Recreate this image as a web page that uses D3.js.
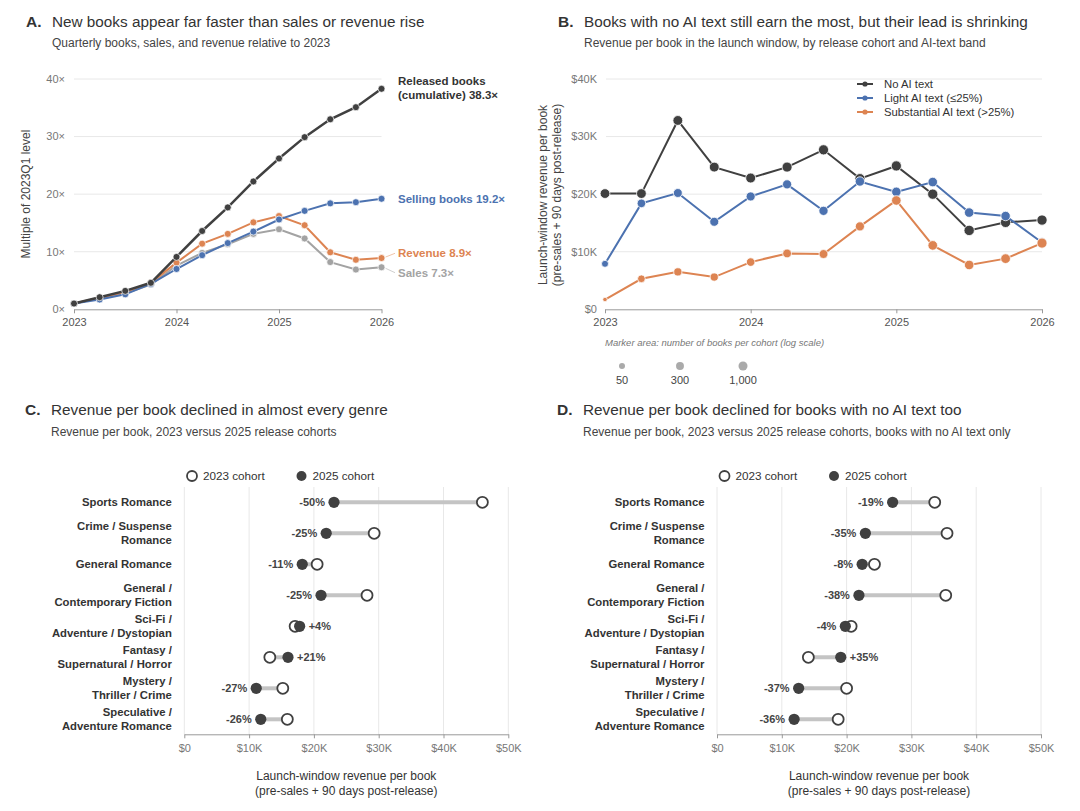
<!DOCTYPE html>
<html>
<head>
<meta charset="utf-8">
<script src="https://cdn.jsdelivr.net/npm/d3@7"></script>
<style>
  body { margin: 0; background: #fff; }
  svg { font-family: "Liberation Sans", Arial, sans-serif; display: block; }
</style>
</head>
<body>
<div id="chart"></div>
<script>
var width = 1080;
var height = 811;

// ---- data ----
var quarters = ["2023Q1","2023Q2","2023Q3","2023Q4","2024Q1","2024Q2","2024Q3","2024Q4",
                "2025Q1","2025Q2","2025Q3","2025Q4","2026Q1"];

// panel A: multiple of 2023Q1 level
var releasedBooks = [1.0, 2.1, 3.2, 4.6, 9.1, 13.6, 17.7, 22.2, 26.2, 29.9, 33.0, 35.1, 38.3];
var sellingBooks  = [1.0, 1.7, 2.6, 4.4, 7.0, 9.4, 11.5, 13.5, 15.6, 17.1, 18.4, 18.6, 19.2];
var revenueMult   = [1.0, 2.0, 3.0, 4.6, 8.1, 11.4, 13.1, 15.1, 16.2, 14.6, 9.9, 8.6, 8.9];
var salesMult     = [1.0, 1.9, 2.8, 4.3, 7.6, 9.8, 11.3, 13.1, 13.9, 12.3, 8.2, 6.9, 7.3];

// panel B: launch-window revenue per book ($K) and books per cohort
var noAiRev    = [20.1, 20.1, 32.8, 24.7, 22.8, 24.7, 27.7, 22.7, 24.9, 20.0, 13.7, 15.1, 15.5];
var lightAiRev = [7.9, 18.4, 20.2, 15.2, 19.6, 21.7, 17.1, 22.2, 20.4, 22.1, 16.8, 16.2, 11.6];
var subAiRev   = [1.7, 5.3, 6.5, 5.6, 8.2, 9.7, 9.6, 14.4, 18.9, 11.1, 7.7, 8.8, 11.5];
var noAiBooks    = [2500, 2600, 2800, 3000, 3400, 3800, 4500, 4000, 4800, 5200, 5800, 5500, 5200];
var lightAiBooks = [120, 600, 900, 1000, 1100, 1200, 1300, 1600, 1800, 2000, 1900, 1700, 1400];
var subAiBooks   = [18, 250, 400, 400, 600, 800, 900, 1200, 2000, 2200, 2000, 2400, 4000];
var sizeLegend = [50, 300, 1000];

// panels C & D: revenue per book ($K) by genre
var genres = ["Sports Romance", "Crime / Suspense Romance", "General Romance",
              "General / Contemporary Fiction", "Sci-Fi / Adventure / Dystopian",
              "Fantasy / Supernatural / Horror", "Mystery / Thriller / Crime",
              "Speculative / Adventure Romance"];
var genreLines = [["Sports Romance"], ["Crime / Suspense", "Romance"], ["General Romance"],
                  ["General /", "Contemporary Fiction"], ["Sci-Fi /", "Adventure / Dystopian"],
                  ["Fantasy /", "Supernatural / Horror"], ["Mystery /", "Thriller / Crime"],
                  ["Speculative /", "Adventure Romance"]];
var allRev2023 = [46.0, 29.3, 20.5, 28.2, 17.1, 13.2, 15.2, 15.9];
var allRev2025 = [23.1, 21.9, 18.2, 21.1, 17.8, 16.0, 11.1, 11.8];
var noAiRev2023 = [33.6, 35.5, 24.3, 35.3, 20.7, 14.1, 20.0, 18.7];
var noAiRev2025 = [27.1, 22.9, 22.4, 21.9, 19.8, 19.1, 12.6, 11.9];

var C_DARK = "#404040", C_BLUE = "#4c72b0", C_ORANGE = "#dd8452", C_GRAY = "#a3a3a3";

var svg = d3.select("#chart").append("svg")
    .attr("width", width)
    .attr("height", height);

svg.append("rect").attr("width", width).attr("height", height).attr("fill", "#fff");

function qToYear(q) {
  return +q.slice(0, 4) + (+q.slice(5) - 1) / 4;
}

function header(x, y, letter, title, sub) {
  svg.append("text").attr("x", x).attr("y", y)
      .attr("font-size", 15.5).attr("font-weight", "bold").attr("fill", "#333").text(letter);
  svg.append("text").attr("x", x + 26).attr("y", y).attr("font-size", 15.3)
      .attr("fill", "#333").text(title);
  svg.append("text").attr("x", x + 26).attr("y", y + 20.5).attr("font-size", 12)
      .attr("fill", "#444").text(sub);
}

function timeAxes(g, x, y, yTicks, fmt, x0, x1) {
  // gridlines
  g.append("g").selectAll("line").data(yTicks.filter(d => d > 0)).enter()
    .append("line")
    .attr("x1", x0).attr("x2", x1)
    .attr("y1", d => y(d)).attr("y2", d => y(d))
    .attr("stroke", "#e8e8e8").attr("stroke-width", 1);
  g.append("g").selectAll("text").data(yTicks).enter()
    .append("text")
    .attr("x", x0 - 9).attr("y", d => y(d)).attr("dy", "0.35em")
    .attr("text-anchor", "end").attr("font-size", 11).attr("fill", "#777")
    .text(fmt);
  var xa = g.append("g").attr("transform", "translate(0," + y(0) + ")")
    .call(d3.axisBottom(x).tickValues([2023, 2024, 2025, 2026]).tickFormat(d3.format("d"))
      .tickSize(4).tickSizeOuter(0).tickPadding(5));
  xa.select(".domain").attr("stroke", "#999");
  xa.selectAll(".tick line").attr("stroke", "#999");
  xa.selectAll(".tick text").attr("font-size", 11).attr("fill", "#555")
    .attr("font-family", "Liberation Sans, Arial, sans-serif");
}

// ================= Panel A =================
header(26, 26.5, "A.", "New books appear far faster than sales or revenue rise",
       "Quarterly books, sales, and revenue relative to 2023");

var gA = svg.append("g");
var xA = d3.scaleLinear().domain([2023, 2026]).range([74, 381.5]);
var yA = d3.scaleLinear().domain([0, 40]).range([309.3, 79]);
timeAxes(gA, xA, yA, [0, 10, 20, 30, 40], d => d + "×", 74, 381.5);

gA.append("text")
  .attr("transform", "translate(30,194) rotate(-90)")
  .attr("text-anchor", "middle").attr("font-size", 12).attr("fill", "#444")
  .text("Multiple of 2023Q1 level");

var seriesA = [
  { vals: salesMult, color: C_GRAY, w: 2 },
  { vals: revenueMult, color: C_ORANGE, w: 2 },
  { vals: sellingBooks, color: C_BLUE, w: 2 },
  { vals: releasedBooks, color: C_DARK, w: 2.5 }
];
var lineA = d3.line().x((d, i) => xA(qToYear(quarters[i]))).y(d => yA(d));
seriesA.forEach(function(s) {
  gA.append("path").datum(s.vals).attr("d", lineA)
    .attr("fill", "none").attr("stroke", s.color).attr("stroke-width", s.w);
  gA.append("g").selectAll("circle").data(s.vals).enter()
    .append("circle")
    .attr("cx", (d, i) => xA(qToYear(quarters[i])))
    .attr("cy", d => yA(d))
    .attr("r", 3.5)
    .attr("fill", s.color).attr("stroke", "#fff").attr("stroke-width", 0.7);
});

var lastA = quarters.length - 1;
var xEnd = xA(qToYear(quarters[lastA]));
var lblX = 398;
var endLbl = gA.append("g").attr("font-size", 11.5).attr("font-weight", "bold");
endLbl.append("text").attr("x", lblX).attr("y", 81).attr("dy", "0.35em").attr("fill", "#333")
  .text("Released books");
endLbl.append("text").attr("x", lblX).attr("y", 94.5).attr("dy", "0.35em").attr("fill", "#333")
  .text("(cumulative) " + releasedBooks[lastA].toFixed(1) + "×");
endLbl.append("text").attr("x", lblX).attr("y", yA(sellingBooks[lastA])).attr("dy", "0.35em")
  .attr("fill", C_BLUE).text("Selling books " + sellingBooks[lastA].toFixed(1) + "×");
endLbl.append("text").attr("x", lblX).attr("y", 253.3).attr("dy", "0.35em")
  .attr("fill", C_ORANGE).text("Revenue " + revenueMult[lastA].toFixed(1) + "×");
endLbl.append("text").attr("x", lblX).attr("y", 272.7).attr("dy", "0.35em")
  .attr("fill", C_GRAY).text("Sales " + salesMult[lastA].toFixed(1) + "×");
gA.append("line").attr("x1", xEnd + 4).attr("y1", yA(revenueMult[lastA]) - 1)
  .attr("x2", lblX - 3).attr("y2", 253.3).attr("stroke", "#f0c4a8").attr("stroke-width", 1);
gA.append("line").attr("x1", xEnd + 4).attr("y1", yA(salesMult[lastA]) + 1)
  .attr("x2", lblX - 3).attr("y2", 272.7).attr("stroke", "#d0d0d0").attr("stroke-width", 1);

// ================= Panel B =================
header(558, 26.5, "B.", "Books with no AI text still earn the most, but their lead is shrinking",
       "Revenue per book in the launch window, by release cohort and AI-text band");

var gB = svg.append("g");
var xB = d3.scaleLinear().domain([2023, 2026]).range([605, 1042]);
var yB = d3.scaleLinear().domain([0, 40]).range([309.3, 79]);
timeAxes(gB, xB, yB, [0, 10, 20, 30, 40], d => d === 0 ? "$0" : "$" + d + "K", 606, 1042);

gB.append("text")
  .attr("transform", "translate(543,195) rotate(-90)")
  .attr("text-anchor", "middle").attr("font-size", 12).attr("fill", "#444")
  .selectAll("tspan")
  .data(["Launch-window revenue per book", "(pre-sales + 90 days post-release)"])
  .enter().append("tspan")
  .attr("x", 0).attr("dy", (d, i) => i === 0 ? "0.35em" : "1.15em")
  .text(d => d);

// marker area on a log scale
var areaB = d3.scaleLog().domain([50, 1000]).range([Math.PI * 3.0 * 3.0, Math.PI * 4.5 * 4.5]);
function rB(n) { return Math.sqrt(Math.max(areaB(n), 12) / Math.PI); }

var seriesB = [
  { name: "No AI text", vals: noAiRev, n: noAiBooks, color: C_DARK },
  { name: "Light AI text (≤25%)", vals: lightAiRev, n: lightAiBooks, color: C_BLUE },
  { name: "Substantial AI text (>25%)", vals: subAiRev, n: subAiBooks, color: C_ORANGE }
];
var lineB = d3.line().x((d, i) => xB(qToYear(quarters[i]))).y(d => yB(d));
seriesB.forEach(function(s) {
  gB.append("path").datum(s.vals).attr("d", lineB)
    .attr("fill", "none").attr("stroke", s.color).attr("stroke-width", 2);
  gB.append("g").selectAll("circle").data(s.vals).enter()
    .append("circle")
    .attr("cx", (d, i) => xB(qToYear(quarters[i])))
    .attr("cy", d => yB(d))
    .attr("r", (d, i) => rB(s.n[i]))
    .attr("fill", s.color).attr("stroke", "#fff").attr("stroke-width", 0.8);
});

var legB = gB.append("g").attr("transform", "translate(857,84)");
seriesB.forEach(function(s, i) {
  var row = legB.append("g").attr("transform", "translate(0," + i * 14 + ")");
  row.append("line").attr("x1", 0).attr("x2", 16).attr("stroke", s.color).attr("stroke-width", 2);
  row.append("circle").attr("cx", 8).attr("r", 2.6).attr("fill", s.color);
  row.append("text").attr("x", 27).attr("dy", "0.35em").attr("font-size", 11.3)
    .attr("fill", "#333").text(s.name);
});

gB.append("text").attr("x", 605).attr("y", 343).attr("dy", "0.35em")
  .attr("font-size", 9.5).attr("font-style", "italic").attr("fill", "#777")
  .text("Marker area: number of books per cohort (log scale)");
var sizeX = [622, 680, 743];
gB.append("g").selectAll("circle").data(sizeLegend).enter().append("circle")
  .attr("cx", (d, i) => sizeX[i]).attr("cy", 366).attr("r", d => rB(d)).attr("fill", "#aaa");
gB.append("g").selectAll("text").data(sizeLegend).enter().append("text")
  .attr("x", (d, i) => sizeX[i]).attr("y", 380).attr("dy", "0.35em")
  .attr("text-anchor", "middle").attr("font-size", 11).attr("fill", "#444")
  .text(d => d3.format(",")(d));

// ================= Panels C & D =================
function dumbbell(ox, plotX0, letter, title, sub, v23, v25, legX) {
  header(ox, 415, letter, title, sub);
  var g = svg.append("g");
  var x = d3.scaleLinear().domain([0, 50]).range([plotX0, plotX0 + 324]);
  var y = d3.scalePoint().domain(genres).range([502.3, 719.3]);
  var top = 487, base = 734.3;

  g.append("g").selectAll("line").data(x.ticks(5)).enter().append("line")
    .attr("x1", d => x(d)).attr("x2", d => x(d))
    .attr("y1", top).attr("y2", base)
    .attr("stroke", "#e8e8e8");
  var xa = g.append("g").attr("transform", "translate(0," + base + ")")
    .call(d3.axisBottom(x).ticks(5).tickFormat(d => d === 0 ? "$0" : "$" + d + "K")
      .tickSize(4).tickSizeOuter(0).tickPadding(6));
  xa.select(".domain").attr("stroke", "#999");
  xa.selectAll(".tick line").attr("stroke", "#999");
  xa.selectAll(".tick text").attr("font-size", 11).attr("fill", "#777")
    .attr("font-family", "Liberation Sans, Arial, sans-serif");

  g.append("text").attr("x", x(25)).attr("y", 776).attr("dy", "0.35em")
    .attr("text-anchor", "middle").attr("font-size", 12).attr("fill", "#333")
    .text("Launch-window revenue per book");
  g.append("text").attr("x", x(25)).attr("y", 791).attr("dy", "0.35em")
    .attr("text-anchor", "middle").attr("font-size", 12).attr("fill", "#333")
    .text("(pre-sales + 90 days post-release)");

  // category labels
  var lab = g.append("g").selectAll("text").data(genres).enter().append("text")
    .attr("x", plotX0 - 12.5).attr("y", d => y(d))
    .attr("text-anchor", "end").attr("font-size", 11.3).attr("font-weight", "bold")
    .attr("fill", "#333");
  lab.each(function(d, i) {
    var lines = genreLines[i];
    d3.select(this).selectAll("tspan").data(lines).enter().append("tspan")
      .attr("x", plotX0 - 12.5)
      .attr("dy", (l, j) => j === 0 ? (lines.length === 1 ? "0.35em" : "-0.25em") : "1.2em")
      .text(l => l);
  });

  var rows = genres.map((gname, i) => ({ g: gname, a: v23[i], b: v25[i] }));
  g.append("g").selectAll("line").data(rows).enter().append("line")
    .attr("x1", d => x(d.a)).attr("x2", d => x(d.b))
    .attr("y1", d => y(d.g)).attr("y2", d => y(d.g))
    .attr("stroke", "#c4c4c4").attr("stroke-width", 4);
  g.append("g").selectAll("circle").data(rows).enter().append("circle")
    .attr("cx", d => x(d.a)).attr("cy", d => y(d.g)).attr("r", 5.5)
    .attr("fill", "#fff").attr("stroke", C_DARK).attr("stroke-width", 1.8);
  g.append("g").selectAll("circle").data(rows).enter().append("circle")
    .attr("cx", d => x(d.b)).attr("cy", d => y(d.g)).attr("r", 5.6)
    .attr("fill", C_DARK);
  g.append("g").selectAll("text").data(rows).enter().append("text")
    .attr("x", d => d.b < d.a ? x(d.b) - 9 : x(d.b) + 9)
    .attr("y", d => y(d.g)).attr("dy", "0.35em")
    .attr("text-anchor", d => d.b < d.a ? "end" : "start")
    .attr("font-size", 11).attr("font-weight", "bold").attr("fill", "#444")
    .text(d => {
      var p = Math.round((d.b / d.a - 1) * 100);
      return (p > 0 ? "+" : "") + p + "%";
    });

  // legend
  var leg = g.append("g").attr("transform", "translate(0,476)");
  leg.append("circle").attr("cx", legX).attr("r", 5).attr("fill", "#fff")
    .attr("stroke", C_DARK).attr("stroke-width", 1.8);
  leg.append("text").attr("x", legX + 11).attr("dy", "0.35em").attr("font-size", 11.7)
    .attr("fill", "#333").text("2023 cohort");
  leg.append("circle").attr("cx", legX + 109.5).attr("r", 5).attr("fill", C_DARK);
  leg.append("text").attr("x", legX + 120.5).attr("dy", "0.35em").attr("font-size", 11.7)
    .attr("fill", "#333").text("2025 cohort");
}

dumbbell(25, 184.3, "C.", "Revenue per book declined in almost every genre",
         "Revenue per book, 2023 versus 2025 release cohorts",
         allRev2023, allRev2025, 192);
dumbbell(557, 717, "D.", "Revenue per book declined for books with no AI text too",
         "Revenue per book, 2023 versus 2025 release cohorts, books with no AI text only",
         noAiRev2023, noAiRev2025, 724.5);
</script>
</body>
</html>
